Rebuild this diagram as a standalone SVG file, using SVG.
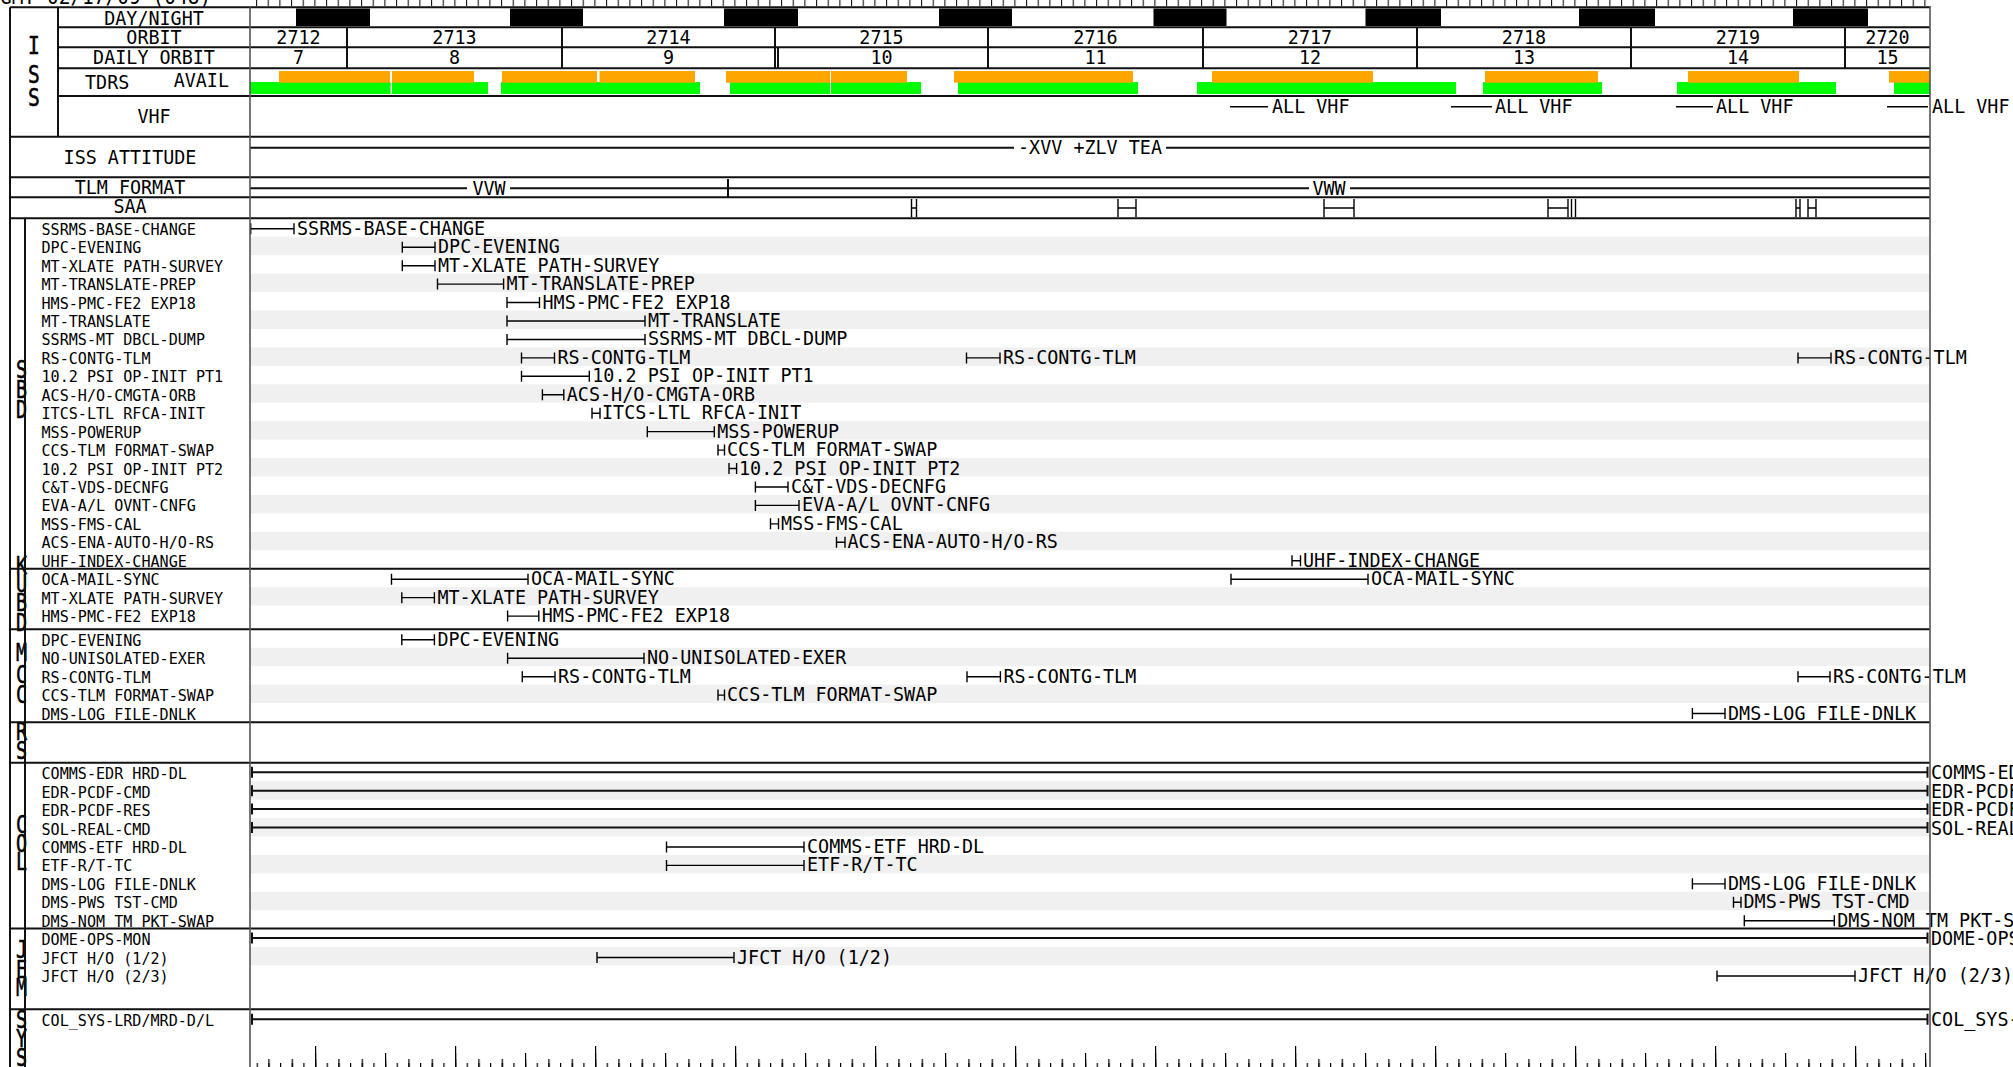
<svg xmlns="http://www.w3.org/2000/svg" width="2013" height="1067" viewBox="0 0 2013 1067">
<style>
text{font-family:'DejaVu Sans Mono','Liberation Mono',monospace;fill:#000}
.h{font-size:18.4px}
.t{font-size:18.4px}
.l{font-size:15.1px}
.c{text-anchor:middle}
.e{text-anchor:end}
.sec{font-size:23px;text-anchor:middle;stroke:#000;stroke-width:0.5px}
.band{fill:#f0f0f0}
.ev{fill:none;stroke:#000;stroke-width:1.4}
.bd{fill:none;stroke:#111;stroke-width:2}
.gv{fill:none;stroke:#555;stroke-width:1.6}
.or{fill:#ffa500}
.gr{fill:#00ff00}
</style>
<defs>
<pattern id="tk5" x="315" y="1063" width="11.6667" height="4" patternUnits="userSpaceOnUse"><line x1="0.6" y1="0" x2="0.6" y2="4" stroke="#000" stroke-width="1.2"/></pattern>
<pattern id="tk10" x="315" y="1059" width="23.3333" height="8" patternUnits="userSpaceOnUse"><line x1="0.6" y1="0" x2="0.6" y2="8" stroke="#000" stroke-width="1.2"/></pattern>
<pattern id="tkMed" x="315" y="1053" width="70" height="14" patternUnits="userSpaceOnUse"><line x1="0.6" y1="0" x2="0.6" y2="14" stroke="#000" stroke-width="1.2"/></pattern>
<pattern id="tkMaj" x="315" y="1046" width="140" height="21" patternUnits="userSpaceOnUse"><line x1="0.6" y1="0" x2="0.6" y2="21" stroke="#000" stroke-width="1.2"/></pattern>
<pattern id="tkTop" x="256" y="0" width="11.6667" height="6" patternUnits="userSpaceOnUse"><line x1="0.6" y1="0" x2="0.6" y2="6" stroke="#000" stroke-width="1"/></pattern>
</defs>
<rect width="2013" height="1067" fill="#fff"/>

<g transform="scale(1,1.1)"><text class="h" x="0" y="3.6" style="font-size:19.5px">GMT 02/17/09 (048)</text></g>
<rect x="256" y="0" width="1674" height="6" fill="url(#tkTop)"/>

<!-- ISS header block -->
<g id="iss-header">
<rect x="296" y="8.5" width="74" height="17.5" fill="#000"/>
<rect x="510" y="8.5" width="73" height="17.5" fill="#000"/>
<rect x="724" y="8.5" width="74" height="17.5" fill="#000"/>
<rect x="939" y="8.5" width="73" height="17.5" fill="#000"/>
<rect x="1153.5" y="8.5" width="73" height="17.5" fill="#000"/>
<rect x="1365.5" y="8.5" width="75.5" height="17.5" fill="#000"/>
<rect x="1579" y="8.5" width="76" height="17.5" fill="#000"/>
<rect x="1793" y="8.5" width="75" height="17.5" fill="#000"/>
<g id="tdrs">
<rect class="gr" x="250" y="82" width="140.6" height="12"/>
<rect class="gr" x="392" y="82" width="96" height="12"/>
<rect class="gr" x="501" y="82" width="199" height="12"/>
<rect class="gr" x="730" y="82" width="100" height="12"/>
<rect class="gr" x="831" y="82" width="90" height="12"/>
<rect class="gr" x="958" y="82" width="180" height="12"/>
<rect class="gr" x="1197" y="82" width="259" height="12"/>
<rect class="gr" x="1483" y="82" width="119" height="12"/>
<rect class="gr" x="1677" y="82" width="159" height="12"/>
<rect class="gr" x="1894" y="82" width="36" height="12"/>
<rect class="or" x="279" y="71" width="111" height="11.7"/>
<rect class="or" x="392" y="71" width="82" height="11.7"/>
<rect class="or" x="502" y="71" width="95" height="11.7"/>
<rect class="or" x="599.6" y="71" width="95.4" height="11.7"/>
<rect class="or" x="726" y="71" width="104" height="11.7"/>
<rect class="or" x="831" y="71" width="76" height="11.7"/>
<rect class="or" x="954" y="71" width="179" height="11.7"/>
<rect class="or" x="1212" y="71" width="161" height="11.7"/>
<rect class="or" x="1485" y="71" width="113" height="11.7"/>
<rect class="or" x="1688" y="71" width="111" height="11.7"/>
<rect class="or" x="1889" y="71" width="41" height="11.7"/>
</g>
<text class="sec" transform="translate(34,54) scale(0.85,1.05)">I</text>
<text class="sec" transform="translate(34,83) scale(0.85,1.05)">S</text>
<text class="sec" transform="translate(34,106) scale(0.85,1.05)">S</text>
<g transform="scale(1,1.1)">
<text class="h c" x="154" y="22.73">DAY/NIGHT</text>
<text class="h c" x="154" y="40.27">ORBIT</text>
<text class="h c" x="154" y="58.45">DAILY ORBIT</text>
<text class="h" x="85" y="80.91">TDRS</text>
<text class="h e" x="229" y="79.36">AVAIL</text>
<text class="h c" x="154" y="111.82">VHF</text>
<g id="orbits">
<text class="h c" x="298.5" y="40.27">2712</text><text class="h c" x="298.5" y="58.45">7</text>
<text class="h c" x="454.5" y="40.27">2713</text><text class="h c" x="454.5" y="58.45">8</text>
<text class="h c" x="668.5" y="40.27">2714</text><text class="h c" x="668.5" y="58.45">9</text>
<text class="h c" x="881.5" y="40.27">2715</text><text class="h c" x="881.5" y="58.45">10</text>
<text class="h c" x="1095.5" y="40.27">2716</text><text class="h c" x="1095.5" y="58.45">11</text>
<text class="h c" x="1310" y="40.27">2717</text><text class="h c" x="1310" y="58.45">12</text>
<text class="h c" x="1524" y="40.27">2718</text><text class="h c" x="1524" y="58.45">13</text>
<text class="h c" x="1738" y="40.27">2719</text><text class="h c" x="1738" y="58.45">14</text>
<text class="h c" x="1887.5" y="40.27">2720</text><text class="h c" x="1887.5" y="58.45">15</text>
</g>
</g>
<path class="bd" d="M347 27.3V68.3M562 27.3V68.3M775 27.3V68.3M778 47.3V68.3M988 27.3V68.3M1203 27.3V68.3M1417 27.3V68.3M1631 27.3V68.3M1845 27.3V68.3"/>
</g>

<g id="vhf">
<path class="ev" d="M1230 106.7H1268M1451 106.7H1492M1676 106.7H1713M1887 106.7H1928"/>
<g transform="scale(1,1.1)">
<text class="t" x="1272" y="103">ALL VHF</text>
<text class="t" x="1495" y="103">ALL VHF</text>
<text class="t" x="1716" y="103">ALL VHF</text>
<text class="t" x="1932" y="103">ALL VHF</text>
</g>
</g>

<g id="attitude">
<path class="bd" d="M250 147.7H1014M1166 147.7H1930"/>
<g transform="scale(1,1.1)">
<text class="h c" x="130" y="149.09">ISS ATTITUDE</text>
<text class="t c" x="1090" y="140">-XVV +ZLV TEA</text>
</g>
</g>
<g id="tlm">
<path class="bd" d="M250 188.3H467M510 188.3H1309M1350 188.3H1930M728 179V197"/>
<g transform="scale(1,1.1)">
<text class="h c" x="130" y="176.36">TLM FORMAT</text>
<text class="t c" x="489" y="177.27">VVW</text>
<text class="t c" x="1329" y="177.27">VWW</text>
</g>
</g>
<g id="saa">
<g transform="scale(1,1.1)"><text class="h c" x="130" y="193.64">SAA</text></g>
<path class="ev" d="M911.5 199V217M916.5 199V217M911.5 208H916.5M1118 199V217M1136 199V217M1118 208H1136M1324 199V217M1354 199V217M1324 208H1354M1548 199V217M1568 199V217M1548 208H1568M1571.5 199V217M1575.5 199V217M1796 199V217M1800 199V217M1796 208H1800M1808 199V217M1816 199V217M1808 208H1816"/>
</g>

<!-- SBD -->
<g id="sbd">
<text class="sec" transform="translate(21.5,378) scale(0.8,1.1)">S</text>
<text class="sec" transform="translate(21.5,398) scale(0.8,1.1)">B</text>
<text class="sec" transform="translate(21.5,418) scale(0.8,1.1)">D</text>
<g id="sbd-r0" transform="translate(0,218.3)"><path class="ev" d="M250.7 10.5H294M250.7 5v11M294 5v11"/><g transform="scale(1,1.1)"><text class="l" x="41.5" y="15">SSRMS-BASE-CHANGE</text><text class="t" x="297" y="15">SSRMS-BASE-CHANGE</text></g></g>
<g id="sbd-r1" transform="translate(0,236.74)"><rect class="band" x="250" width="1680" height="18.44"/><path class="ev" d="M402.3 10.5H435M402.3 5v11M435 5v11"/><g transform="scale(1,1.1)"><text class="l" x="41.5" y="15">DPC-EVENING</text><text class="t" x="438" y="15">DPC-EVENING</text></g></g>
<g id="sbd-r2" transform="translate(0,255.18)"><path class="ev" d="M402.3 10.5H435M402.3 5v11M435 5v11"/><g transform="scale(1,1.1)"><text class="l" x="41.5" y="15">MT-XLATE PATH-SURVEY</text><text class="t" x="438" y="15">MT-XLATE PATH-SURVEY</text></g></g>
<g id="sbd-r3" transform="translate(0,273.62)"><rect class="band" x="250" width="1680" height="18.44"/><path class="ev" d="M437.5 10.5H503.6M437.5 5v11M503.6 5v11"/><g transform="scale(1,1.1)"><text class="l" x="41.5" y="15">MT-TRANSLATE-PREP</text><text class="t" x="506.6" y="15">MT-TRANSLATE-PREP</text></g></g>
<g id="sbd-r4" transform="translate(0,292.06)"><path class="ev" d="M507 10.5H539.5M507 5v11M539.5 5v11"/><g transform="scale(1,1.1)"><text class="l" x="41.5" y="15">HMS-PMC-FE2 EXP18</text><text class="t" x="542.5" y="15">HMS-PMC-FE2 EXP18</text></g></g>
<g id="sbd-r5" transform="translate(0,310.5)"><rect class="band" x="250" width="1680" height="18.44"/><path class="ev" d="M507 10.5H645M507 5v11M645 5v11"/><g transform="scale(1,1.1)"><text class="l" x="41.5" y="15">MT-TRANSLATE</text><text class="t" x="648" y="15">MT-TRANSLATE</text></g></g>
<g id="sbd-r6" transform="translate(0,328.94)"><path class="ev" d="M507 10.5H645M507 5v11M645 5v11"/><g transform="scale(1,1.1)"><text class="l" x="41.5" y="15">SSRMS-MT DBCL-DUMP</text><text class="t" x="648" y="15">SSRMS-MT DBCL-DUMP</text></g></g>
<g id="sbd-r7" transform="translate(0,347.38)"><rect class="band" x="250" width="1680" height="18.44"/><path class="ev" d="M521.5 10.5H554.5M521.5 5v11M554.5 5v11M966.5 10.5H1000M966.5 5v11M1000 5v11M1798 10.5H1831M1798 5v11M1831 5v11"/><g transform="scale(1,1.1)"><text class="l" x="41.5" y="15">RS-CONTG-TLM</text><text class="t" x="557.5" y="15">RS-CONTG-TLM</text><text class="t" x="1003" y="15">RS-CONTG-TLM</text><text class="t" x="1834" y="15">RS-CONTG-TLM</text></g></g>
<g id="sbd-r8" transform="translate(0,365.82)"><path class="ev" d="M521.5 10.5H589.3M521.5 5v11M589.3 5v11"/><g transform="scale(1,1.1)"><text class="l" x="41.5" y="15">10.2 PSI OP-INIT PT1</text><text class="t" x="592.3" y="15">10.2 PSI OP-INIT PT1</text></g></g>
<g id="sbd-r9" transform="translate(0,384.26)"><rect class="band" x="250" width="1680" height="18.44"/><path class="ev" d="M542.4 10.5H563.8M542.4 5v11M563.8 5v11"/><g transform="scale(1,1.1)"><text class="l" x="41.5" y="15">ACS-H/O-CMGTA-ORB</text><text class="t" x="566.8" y="15">ACS-H/O-CMGTA-ORB</text></g></g>
<g id="sbd-r10" transform="translate(0,402.7)"><path class="ev" d="M592 10.5H600M592 5v11M600 5v11"/><g transform="scale(1,1.1)"><text class="l" x="41.5" y="15">ITCS-LTL RFCA-INIT</text><text class="t" x="602" y="15">ITCS-LTL RFCA-INIT</text></g></g>
<g id="sbd-r11" transform="translate(0,421.14)"><rect class="band" x="250" width="1680" height="18.44"/><path class="ev" d="M647.3 10.5H714.3M647.3 5v11M714.3 5v11"/><g transform="scale(1,1.1)"><text class="l" x="41.5" y="15">MSS-POWERUP</text><text class="t" x="717.3" y="15">MSS-POWERUP</text></g></g>
<g id="sbd-r12" transform="translate(0,439.58)"><path class="ev" d="M718 10.5H724.5M718 5v11M724.5 5v11"/><g transform="scale(1,1.1)"><text class="l" x="41.5" y="15">CCS-TLM FORMAT-SWAP</text><text class="t" x="727" y="15">CCS-TLM FORMAT-SWAP</text></g></g>
<g id="sbd-r13" transform="translate(0,458.02)"><rect class="band" x="250" width="1680" height="18.44"/><path class="ev" d="M729 10.5H736.6M729 5v11M736.6 5v11"/><g transform="scale(1,1.1)"><text class="l" x="41.5" y="15">10.2 PSI OP-INIT PT2</text><text class="t" x="739" y="15">10.2 PSI OP-INIT PT2</text></g></g>
<g id="sbd-r14" transform="translate(0,476.46)"><path class="ev" d="M755.4 10.5H788M755.4 5v11M788 5v11"/><g transform="scale(1,1.1)"><text class="l" x="41.5" y="15">C&amp;T-VDS-DECNFG</text><text class="t" x="791" y="15">C&amp;T-VDS-DECNFG</text></g></g>
<g id="sbd-r15" transform="translate(0,494.9)"><rect class="band" x="250" width="1680" height="18.44"/><path class="ev" d="M755.4 10.5H799M755.4 5v11M799 5v11"/><g transform="scale(1,1.1)"><text class="l" x="41.5" y="15">EVA-A/L OVNT-CNFG</text><text class="t" x="802" y="15">EVA-A/L OVNT-CNFG</text></g></g>
<g id="sbd-r16" transform="translate(0,513.34)"><path class="ev" d="M770.5 10.5H778.5M770.5 5v11M778.5 5v11"/><g transform="scale(1,1.1)"><text class="l" x="41.5" y="15">MSS-FMS-CAL</text><text class="t" x="781" y="15">MSS-FMS-CAL</text></g></g>
<g id="sbd-r17" transform="translate(0,531.78)"><rect class="band" x="250" width="1680" height="18.44"/><path class="ev" d="M836.5 10.5H845M836.5 5v11M845 5v11"/><g transform="scale(1,1.1)"><text class="l" x="41.5" y="15">ACS-ENA-AUTO-H/O-RS</text><text class="t" x="847.5" y="15">ACS-ENA-AUTO-H/O-RS</text></g></g>
<g id="sbd-r18" transform="translate(0,550.22)"><path class="ev" d="M1292 10.5H1300.5M1292 5v11M1300.5 5v11"/><g transform="scale(1,1.1)"><text class="l" x="41.5" y="15">UHF-INDEX-CHANGE</text><text class="t" x="1303" y="15">UHF-INDEX-CHANGE</text></g></g>
</g>

<!-- KUBD -->
<g id="kubd">
<text class="sec" transform="translate(21.5,574) scale(0.8,1.1)">K</text>
<text class="sec" transform="translate(21.5,592) scale(0.8,1.1)">U</text>
<text class="sec" transform="translate(21.5,611) scale(0.8,1.1)">B</text>
<text class="sec" transform="translate(21.5,631) scale(0.8,1.1)">D</text>
<g id="kubd-r0" transform="translate(0,568.7)"><path class="ev" d="M391.5 10.5H528M391.5 5v11M528 5v11M1231 10.5H1368M1231 5v11M1368 5v11"/><g transform="scale(1,1.1)"><text class="l" x="41.5" y="15">OCA-MAIL-SYNC</text><text class="t" x="531" y="15">OCA-MAIL-SYNC</text><text class="t" x="1371" y="15">OCA-MAIL-SYNC</text></g></g>
<g id="kubd-r1" transform="translate(0,587.14)"><rect class="band" x="250" width="1680" height="18.44"/><path class="ev" d="M401.8 10.5H434.4M401.8 5v11M434.4 5v11"/><g transform="scale(1,1.1)"><text class="l" x="41.5" y="15">MT-XLATE PATH-SURVEY</text><text class="t" x="437.4" y="15">MT-XLATE PATH-SURVEY</text></g></g>
<g id="kubd-r2" transform="translate(0,605.58)"><path class="ev" d="M507.6 10.5H538.8M507.6 5v11M538.8 5v11"/><g transform="scale(1,1.1)"><text class="l" x="41.5" y="15">HMS-PMC-FE2 EXP18</text><text class="t" x="541.8" y="15">HMS-PMC-FE2 EXP18</text></g></g>
</g>

<!-- MCC -->
<g id="mcc">
<text class="sec" transform="translate(21.5,661) scale(0.8,1.1)">M</text>
<text class="sec" transform="translate(21.5,683) scale(0.8,1.1)">C</text>
<text class="sec" transform="translate(21.5,703) scale(0.8,1.1)">C</text>
<g id="mcc-r0" transform="translate(0,629.3)"><path class="ev" d="M401.8 10.5H434.4M401.8 5v11M434.4 5v11"/><g transform="scale(1,1.1)"><text class="l" x="41.5" y="15">DPC-EVENING</text><text class="t" x="437.4" y="15">DPC-EVENING</text></g></g>
<g id="mcc-r1" transform="translate(0,647.74)"><rect class="band" x="250" width="1680" height="18.44"/><path class="ev" d="M507.6 10.5H644M507.6 5v11M644 5v11"/><g transform="scale(1,1.1)"><text class="l" x="41.5" y="15">NO-UNISOLATED-EXER</text><text class="t" x="647" y="15">NO-UNISOLATED-EXER</text></g></g>
<g id="mcc-r2" transform="translate(0,666.18)"><path class="ev" d="M522.3 10.5H555M522.3 5v11M555 5v11M967 10.5H1000.4M967 5v11M1000.4 5v11M1798 10.5H1830M1798 5v11M1830 5v11"/><g transform="scale(1,1.1)"><text class="l" x="41.5" y="15">RS-CONTG-TLM</text><text class="t" x="558" y="15">RS-CONTG-TLM</text><text class="t" x="1003.4" y="15">RS-CONTG-TLM</text><text class="t" x="1833" y="15">RS-CONTG-TLM</text></g></g>
<g id="mcc-r3" transform="translate(0,684.62)"><rect class="band" x="250" width="1680" height="18.44"/><path class="ev" d="M718 10.5H724.5M718 5v11M724.5 5v11"/><g transform="scale(1,1.1)"><text class="l" x="41.5" y="15">CCS-TLM FORMAT-SWAP</text><text class="t" x="727" y="15">CCS-TLM FORMAT-SWAP</text></g></g>
<g id="mcc-r4" transform="translate(0,703.06)"><path class="ev" d="M1692.4 10.5H1725M1692.4 5v11M1725 5v11"/><g transform="scale(1,1.1)"><text class="l" x="41.5" y="15">DMS-LOG FILE-DNLK</text><text class="t" x="1728" y="15">DMS-LOG FILE-DNLK</text></g></g>
</g>

<!-- RS -->
<g id="rs">
<text class="sec" transform="translate(21.5,740) scale(0.8,1.1)">R</text>
<text class="sec" transform="translate(21.5,759) scale(0.8,1.1)">S</text>
</g>

<!-- COL -->
<g id="col">
<text class="sec" transform="translate(21.5,833) scale(0.8,1.1)">C</text>
<text class="sec" transform="translate(21.5,852) scale(0.8,1.1)">O</text>
<text class="sec" transform="translate(21.5,870) scale(0.8,1.1)">L</text>
<g id="col-r0" transform="translate(0,762.7)"><path class="bd" d="M252 9.5H1927.5M252 4v11M1927.5 4v11"/><g transform="scale(1,1.1)"><text class="l" x="41.5" y="15">COMMS-EDR HRD-DL</text><text class="t" x="1931" y="15">COMMS-EDR HRD-DL</text></g></g>
<g id="col-r1" transform="translate(0,781.14)"><rect class="band" x="250" width="1680" height="18.44"/><path class="bd" d="M252 9.5H1927.5M252 4v11M1927.5 4v11"/><g transform="scale(1,1.1)"><text class="l" x="41.5" y="15">EDR-PCDF-CMD</text><text class="t" x="1931" y="15">EDR-PCDF-CMD</text></g></g>
<g id="col-r2" transform="translate(0,799.58)"><path class="bd" d="M252 9.5H1927.5M252 4v11M1927.5 4v11"/><g transform="scale(1,1.1)"><text class="l" x="41.5" y="15">EDR-PCDF-RES</text><text class="t" x="1931" y="15">EDR-PCDF-RES</text></g></g>
<g id="col-r3" transform="translate(0,818.02)"><rect class="band" x="250" width="1680" height="18.44"/><path class="bd" d="M252 9.5H1927.5M252 4v11M1927.5 4v11"/><g transform="scale(1,1.1)"><text class="l" x="41.5" y="15">SOL-REAL-CMD</text><text class="t" x="1931" y="15">SOL-REAL-CMD</text></g></g>
<g id="col-r4" transform="translate(0,836.46)"><path class="ev" d="M666.5 10.5H804M666.5 5v11M804 5v11"/><g transform="scale(1,1.1)"><text class="l" x="41.5" y="15">COMMS-ETF HRD-DL</text><text class="t" x="807" y="15">COMMS-ETF HRD-DL</text></g></g>
<g id="col-r5" transform="translate(0,854.9)"><rect class="band" x="250" width="1680" height="18.44"/><path class="ev" d="M666.5 10.5H804M666.5 5v11M804 5v11"/><g transform="scale(1,1.1)"><text class="l" x="41.5" y="15">ETF-R/T-TC</text><text class="t" x="807" y="15">ETF-R/T-TC</text></g></g>
<g id="col-r6" transform="translate(0,873.34)"><path class="ev" d="M1692.4 10.5H1725M1692.4 5v11M1725 5v11"/><g transform="scale(1,1.1)"><text class="l" x="41.5" y="15">DMS-LOG FILE-DNLK</text><text class="t" x="1728" y="15">DMS-LOG FILE-DNLK</text></g></g>
<g id="col-r7" transform="translate(0,891.78)"><rect class="band" x="250" width="1680" height="18.44"/><path class="ev" d="M1733.5 10.5H1741M1733.5 5v11M1741 5v11"/><g transform="scale(1,1.1)"><text class="l" x="41.5" y="15">DMS-PWS TST-CMD</text><text class="t" x="1743.5" y="15">DMS-PWS TST-CMD</text></g></g>
<g id="col-r8" transform="translate(0,910.22)"><path class="ev" d="M1744.3 10.5H1834.3M1744.3 5v11M1834.3 5v11"/><g transform="scale(1,1.1)"><text class="l" x="41.5" y="15">DMS-NOM TM PKT-SWAP</text><text class="t" x="1837.3" y="15">DMS-NOM TM PKT-SWAP</text></g></g>
</g>

<!-- JEM -->
<g id="jem">
<text class="sec" transform="translate(21.5,958) scale(0.8,1.1)">J</text>
<text class="sec" transform="translate(21.5,978) scale(0.8,1.1)">E</text>
<text class="sec" transform="translate(21.5,996) scale(0.8,1.1)">M</text>
<g id="jem-r0" transform="translate(0,928.6)"><path class="bd" d="M252 9.5H1927.5M252 4v11M1927.5 4v11"/><g transform="scale(1,1.1)"><text class="l" x="41.5" y="15">DOME-OPS-MON</text><text class="t" x="1931" y="15">DOME-OPS-MON</text></g></g>
<g id="jem-r1" transform="translate(0,947.04)"><rect class="band" x="250" width="1680" height="18.44"/><path class="ev" d="M597 10.5H734M597 5v11M734 5v11"/><g transform="scale(1,1.1)"><text class="l" x="41.5" y="15">JFCT H/O (1/2)</text><text class="t" x="737" y="15">JFCT H/O (1/2)</text></g></g>
<g id="jem-r2" transform="translate(0,965.48)"><path class="ev" d="M1717 10.5H1855M1717 5v11M1855 5v11"/><g transform="scale(1,1.1)"><text class="l" x="41.5" y="15">JFCT H/O (2/3)</text><text class="t" x="1858" y="15">JFCT H/O (2/3)</text></g></g>
</g>

<!-- SYS -->
<g id="sys">
<text class="sec" transform="translate(21.5,1028) scale(0.8,1.1)">S</text>
<text class="sec" transform="translate(21.5,1047) scale(0.8,1.1)">Y</text>
<text class="sec" transform="translate(21.5,1066) scale(0.8,1.1)">S</text>
<g id="sys-r0" transform="translate(0,1009.3)"><path class="bd" d="M252 10H1927.5M252 4.5v11M1927.5 4.5v11"/><g transform="scale(1,1.1)"><text class="l" x="41.5" y="15">COL_SYS-LRD/MRD-D/L</text><text class="t" x="1931" y="15">COL_SYS-LRD/MRD-D/L</text></g></g>
<rect x="256" y="1063" width="1672" height="4" fill="url(#tk5)"/>
<rect x="256" y="1059" width="1672" height="8" fill="url(#tk10)"/>
<rect x="256" y="1053" width="1672" height="14" fill="url(#tkMed)"/>
<rect x="256" y="1046" width="1672" height="21" fill="url(#tkMaj)"/>
</g>

<!-- grid lines -->
<g id="grid">
<path class="bd" d="M10 7.3H1930M58 27.3H1930M58 47.3H1930M58 68.3H1930M58 96H1930M10 136.7H1930M10 177.3H1930M10 197.3H1930M10 218.3H1930M10 568.7H1930M10 629.3H1930M10 722.3H1930M10 762.7H1930M10 928.6H1930M10 1009.3H1930"/>
<path class="bd" d="M10 7.3V1067M58 7.3V136.7M25 218.3V1067"/>
<path class="gv" d="M250 7.3V1067M1930 6V1067"/>
</g>
</svg>
